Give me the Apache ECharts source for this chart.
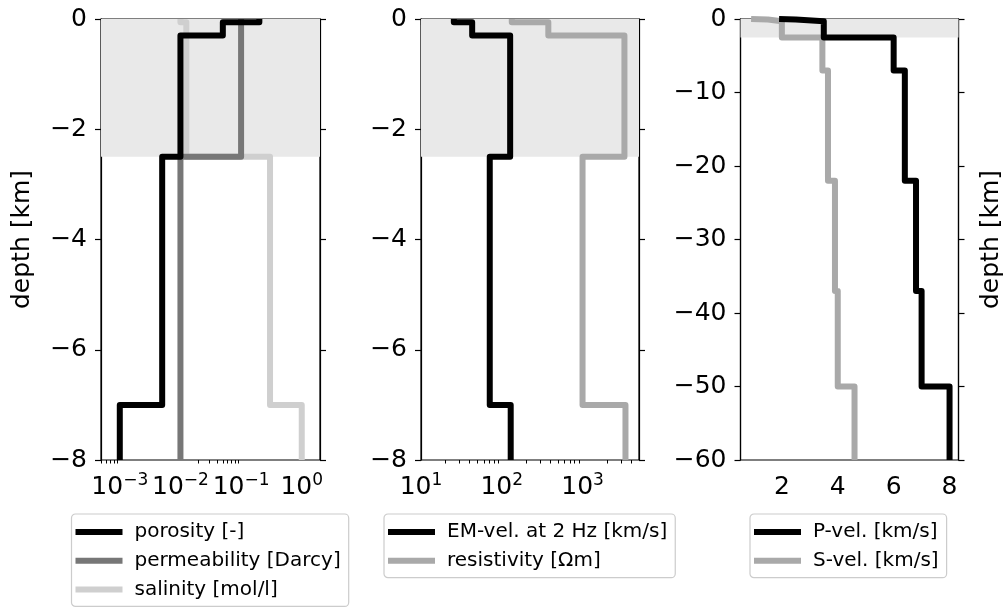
<!DOCTYPE html>
<html><head><meta charset="utf-8">
<script src="https://cdn.jsdelivr.net/npm/echarts@6/dist/echarts.min.js"></script>
<style>html,body{margin:0;padding:0;background:#fff}#c{width:1006px;height:608px}</style>
</head><body><div id="c"></div>
<script>
// ---- data ----
const shallowTops = [0, -0.06, -0.3, -2.5, -7];
const shallowBottom = -8;
const porosity = [0.2, 0.05, 0.01, 0.005, 0.001];
const permeability = [0.1, 0.1, 0.1, 0.01, 0.01];
const salinity = [0.01, 0.0125, 0.0125, 0.3, 1.0];
const emVel = [25.5, 43, 127, 71, 129];
const resistivity = [133, 377, 3300, 1000, 3400];
const crustTops = [0, -0.06, -0.3, -2.5, -7, -22, -37, -50];
const crustBottom = -60;
const pVel = [1.9, 2.5, 3.5, 6.0, 6.4, 6.8, 7.0, 8.0];
const sVel = [0.9, 1.5, 2.0, 3.45, 3.65, 3.9, 4.0, 4.6];
const shadeDepth = [0, -2.5];
const xTicks1 = [0.001, 0.01, 0.1, 1];
const xMinor1 = [0.0005, 0.0006, 0.0007, 0.0008, 0.0009, 0.02, 0.03, 0.04, 0.05, 0.06, 0.07, 0.08, 0.09];
const xTicks2 = [10, 100, 1000];
const xMinor2 = [20, 30, 40, 50, 60, 70, 80, 90, 200, 300, 400, 500, 600, 700, 800, 900, 2000, 3000, 4000];
const xTicks3 = [2, 4, 6, 8];
const names1 = ['porosity [-]', 'permeability [Darcy]', 'salinity [mol/l]'];
const names2 = ['EM-vel. at 2 Hz [km/s]', 'resistivity [\u03A9m]'];
const names3 = ['P-vel. [km/s]', 'S-vel. [km/s]'];

const FONT = 'DejaVu Sans';
function steps(tops, bottom, vals) {
  const pts = [];
  for (let i = 0; i < tops.length; i++) {
    const bot = i + 1 < tops.length ? tops[i + 1] : bottom;
    pts.push([vals[i], tops[i]], [vals[i], bot]);
  }
  return pts;
}
const minus = v => (v < 0 ? '\u2212' + (-v) : String(v));
function supLabel(v) {
  const e = Math.round(Math.log10(v));
  return '{b|10}{s|' + (e < 0 ? '\u2212' : '') + Math.abs(e) + '}';
}
const rich = {
  b: {fontSize: 25, lineHeight: 30, fontFamily: FONT, color: '#000'},
  s: {fontSize: 17, lineHeight: 20, verticalAlign: 'top', fontFamily: FONT, color: '#000'}
};
const lineAx = {show: true, lineStyle: {color: '#000', width: 1.2}};
function mainX(grid, type, min, max, ticks, fmt) {
  return {
    gridIndex: grid, type: type, min: min, max: max, position: 'bottom',
    axisLine: lineAx, splitLine: {show: false},
    axisTick: {show: true, customValues: ticks, length: 6, lineStyle: {color: '#000', width: 1.2}},
    axisLabel: {show: true, customValues: ticks, margin: 12, formatter: fmt, rich: rich,
      fontSize: 25, lineHeight: 30, fontFamily: FONT, color: '#000'}
  };
}
function minorX(grid, min, max, ticks, h) {
  return {
    gridIndex: grid, type: 'log', min: min, max: max, position: 'top', offset: -h,
    axisLine: {show: false}, splitLine: {show: false}, axisLabel: {show: false},
    axisTick: {show: true, inside: true, customValues: ticks, length: 3.5, lineStyle: {color: '#000', width: 1}}
  };
}
function leftY(grid, min, interval, name) {
  return {
    gridIndex: grid, type: 'value', min: min, max: 0, interval: interval, position: 'left',
    axisLine: lineAx, splitLine: {show: false},
    axisTick: {show: true, length: 6, lineStyle: {color: '#000', width: 1.2}},
    axisLabel: {margin: 14, formatter: minus, fontSize: 25, fontFamily: FONT, color: '#000'},
    name: name || '', nameLocation: 'middle', nameGap: 66,
    nameTextStyle: {fontSize: 25, fontFamily: FONT, color: '#000'}
  };
}
function rightY(grid, min, interval, name) {
  return {
    gridIndex: grid, type: 'value', min: min, max: 0, interval: interval, position: 'right',
    axisLine: lineAx, splitLine: {show: false}, axisLabel: {show: false},
    axisTick: {show: true, length: 6, lineStyle: {color: '#000', width: 1.2}},
    name: name || '', nameLocation: 'middle', nameGap: 20, nameRotate: 90,
    nameTextStyle: {fontSize: 25, fontFamily: FONT, color: '#000'}
  };
}
function ser(name, data, color, xi, yi, z, shade) {
  const s = {
    name: name, type: 'line', data: data, xAxisIndex: xi, yAxisIndex: yi, z: z,
    color: color, showSymbol: false, symbol: 'none', clip: true,
    lineStyle: {color: color, width: 6, join: 'round', cap: 'butt'}
  };
  if (shade) {
    s.markArea = {silent: true, z: 1, itemStyle: {color: '#e9e9e9'},
      data: [[{yAxis: shadeDepth[0]}, {yAxis: shadeDepth[1]}]]};
  }
  return s;
}
function legend(names, left) {
  return {
    data: names, left: left, top: 514, orient: 'vertical', icon: 'rect',
    itemWidth: 47, itemHeight: 6, itemGap: 6.7, padding: [7, 8, 6, 4],
    textStyle: {fontSize: 20, lineHeight: 22, fontFamily: FONT, color: '#000', padding: [0, 0, 0, 7]},
    borderColor: '#cccccc', borderWidth: 1.2, borderRadius: 4, backgroundColor: '#fff',
    selectedMode: false
  };
}
const H = 441;
const gridBase = {top: 19, height: H, show: true, borderColor: '#000', borderWidth: 1.2, backgroundColor: 'transparent', containLabel: false};
const option = {
  animation: false,
  backgroundColor: '#fff',
  grid: [
    Object.assign({left: 101, width: 219}, gridBase),
    Object.assign({left: 421, width: 218}, gridBase),
    Object.assign({left: 740.5, width: 218}, gridBase)
  ],
  xAxis: [
    mainX(0, 'log', 4.9e-4, 2.0, xTicks1, supLabel),
    minorX(0, 4.9e-4, 2.0, xMinor1, H),
    mainX(1, 'log', 10, 5000, xTicks2, supLabel),
    minorX(1, 10, 5000, xMinor2, H),
    mainX(2, 'value', 0.52, 8.32, xTicks3, v => String(v))
  ],
  yAxis: [
    leftY(0, -8, 2, 'depth [km]'), rightY(0, -8, 2),
    leftY(1, -8, 2), rightY(1, -8, 2),
    leftY(2, -60, 10), rightY(2, -60, 10, 'depth [km]')
  ],
  legend: [legend(names1, 71.5), legend(names2, 384), legend(names3, 750)],
  series: [
    ser(names1[2], steps(shallowTops, shallowBottom, salinity), '#cfcfcf', 0, 0, 2, true),
    ser(names1[1], steps(shallowTops, shallowBottom, permeability), '#777777', 0, 0, 3),
    ser(names1[0], steps(shallowTops, shallowBottom, porosity), '#000000', 0, 0, 4),
    ser(names2[1], steps(shallowTops, shallowBottom, resistivity), '#a9a9a9', 2, 2, 2, true),
    ser(names2[0], steps(shallowTops, shallowBottom, emVel), '#000000', 2, 2, 3),
    ser(names3[1], steps(crustTops, crustBottom, sVel), '#a9a9a9', 4, 4, 2, true),
    ser(names3[0], steps(crustTops, crustBottom, pVel), '#000000', 4, 4, 3)
  ]
};
const chart = echarts.init(document.getElementById('c'), null, {renderer: 'canvas'});
chart.setOption(option);
</script></body></html>
